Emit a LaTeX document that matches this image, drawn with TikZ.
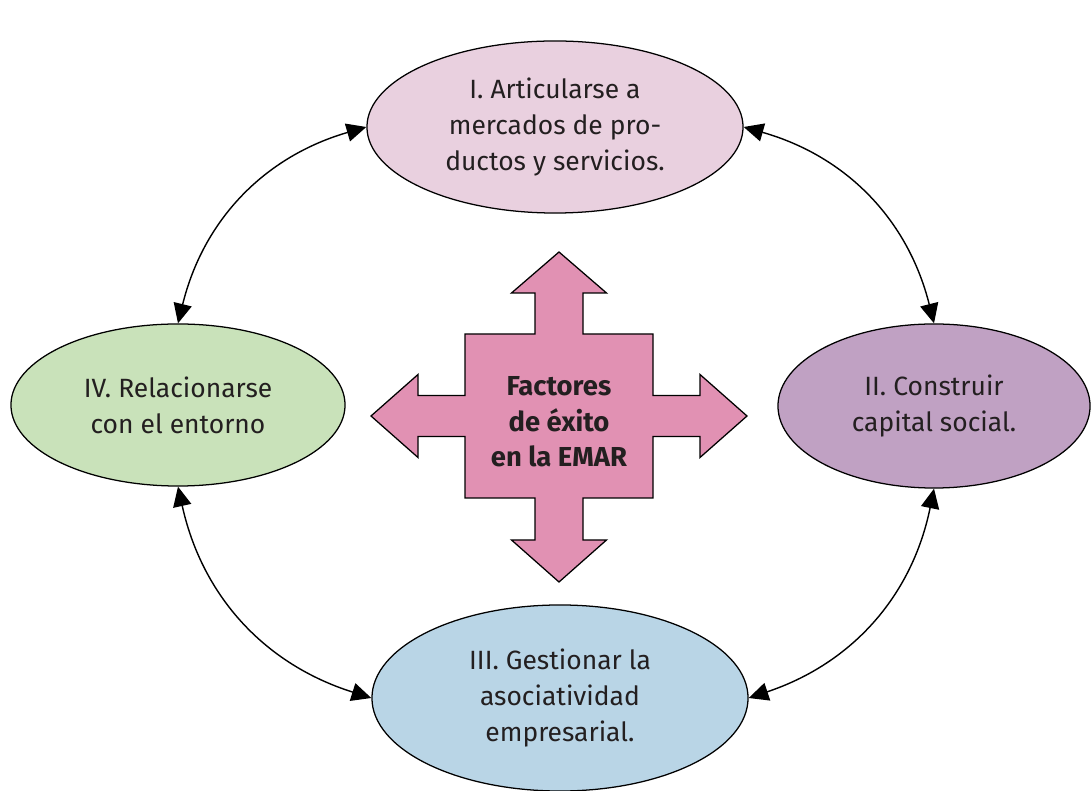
\documentclass[tikz,border=0pt]{standalone}
\usepackage{fontspec}
\setmainfont{Fira Sans}
\usepackage{xcolor}
\usetikzlibrary{positioning, arrows.meta, shapes.geometric}

\definecolor{txt}{HTML}{231F20}
\definecolor{artcol}{HTML}{E9D0DF}
\definecolor{capcol}{HTML}{C0A1C3}
\definecolor{asocol}{HTML}{B9D5E6}
\definecolor{entcol}{HTML}{C9E2BA}
\definecolor{faccol}{HTML}{E191B3}

\tikzset{
	factor/.style={ellipse, draw, line width=0.9pt, inner sep=0pt, align=center, text=txt,
		font=\fontsize{18.8}{25.6}\selectfont},
	link/.style={>={Triangle[length=14pt, width=13pt]}, <->, line width=1pt, bend left=30},
	bigarrow/.style={draw, line width=0.9pt, fill=faccol, line join=miter}
}

\begin{document}
\begin{tikzpicture}[x=0.025cm, y=0.025cm]
	\useasboundingbox (0,0) rectangle (1091,790);
	\node[factor, fill=artcol, minimum width=9.4cm, minimum height=4.3cm] (art) at (555,663) {I. Articularse a\\mercados de pro-\\ductos y servicios.};
	\node[factor, fill=capcol, minimum width=7.8cm, minimum height=4.1cm] (cap) at (934,384) {II. Construir\\capital social.};
	\node[factor, fill=asocol, minimum width=9.4cm, minimum height=4.65cm] (aso) at (560,92) {III. Gestionar la\\asociatividad\\empresarial.};
	\node[factor, fill=entcol, minimum width=8.35cm, minimum height=4.05cm] (ent) at (178,385) {IV. Relacionarse\\con el entorno};
	% flecha central en cuatro direcciones
	\draw[bigarrow, shift={(559,374)}] (0,164) -- (47.5,123) -- (24,123) -- (24,82) -- (94,82) -- (94,20.5) -- (141,20.5) -- (141,41.5) -- (188,0) -- (141,-41.5) -- (141,-20.5) -- (94,-20.5) -- (94,-82) -- (24,-82) -- (24,-124) -- (47.5,-124) -- (0,-166) -- (-47.5,-124) -- (-24,-124) -- (-24,-82) -- (-94,-82) -- (-94,-20.5) -- (-141,-20.5) -- (-141,-41.5) -- (-188,0) -- (-141,41.5) -- (-141,20.5) -- (-94,20.5) -- (-94,82) -- (-24,82) -- (-24,123) -- (-47.5,123) -- cycle;
	\node[align=center, text=txt, font=\fontsize{19.5}{25.4}\selectfont\bfseries] (fac) at (559,368) {Factores\\de éxito\\en la EMAR};
	\draw[link] (ent.north) to (art.west);
	\draw[link] (art.east) to (cap.north);
	\draw[link] (cap.south) to (aso.east);
	\draw[link] (aso.west) to (ent.south);
\end{tikzpicture}
\end{document}
